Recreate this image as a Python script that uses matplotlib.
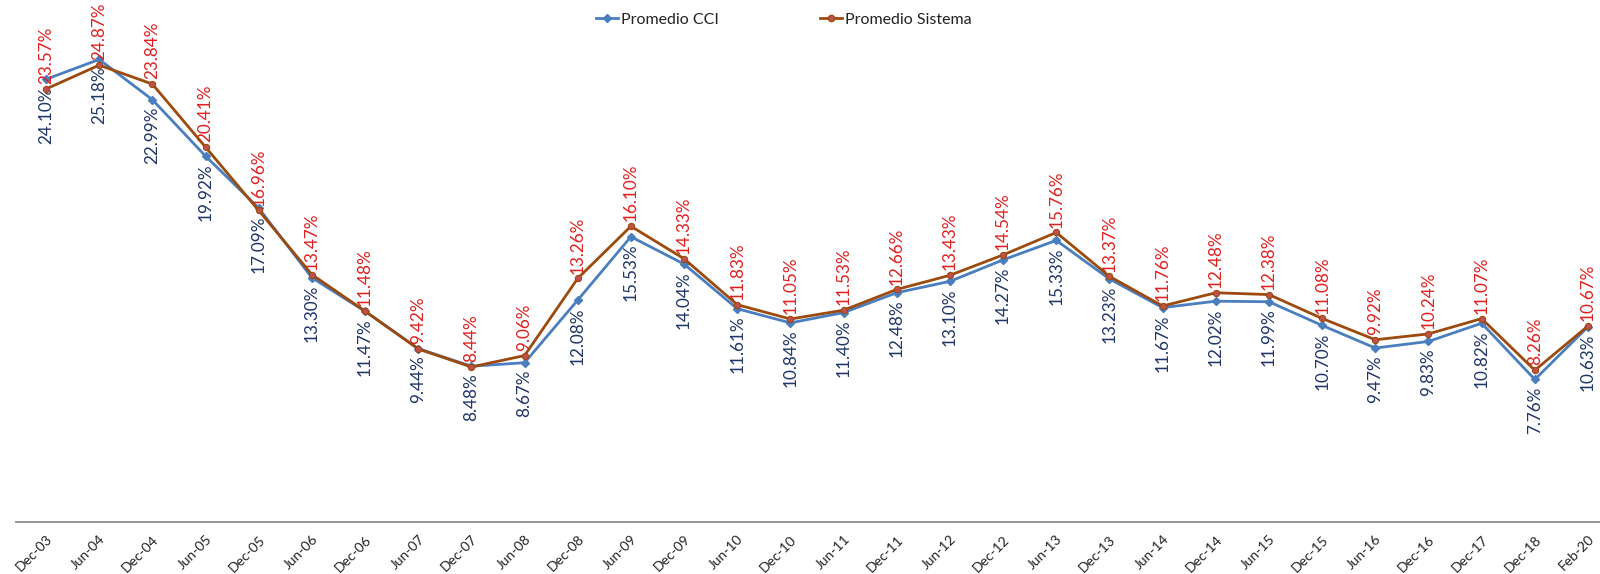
import matplotlib
matplotlib.use("Agg")
import matplotlib.pyplot as plt
from matplotlib.lines import Line2D

categories = ["Dec-03", "Jun-04", "Dec-04", "Jun-05", "Dec-05", "Jun-06", "Dec-06",
              "Jun-07", "Dec-07", "Jun-08", "Dec-08", "Jun-09", "Dec-09", "Jun-10",
              "Dec-10", "Jun-11", "Dec-11", "Jun-12", "Dec-12", "Jun-13", "Dec-13",
              "Jun-14", "Dec-14", "Jun-15", "Dec-15", "Jun-16", "Dec-16", "Dec-17",
              "Dec-18", "Feb-20"]
promedio_cci = [24.10, 25.18, 22.99, 19.92, 17.09, 13.30, 11.47, 9.44, 8.48, 8.67,
                12.08, 15.53, 14.04, 11.61, 10.84, 11.40, 12.48, 13.10, 14.27, 15.33,
                13.23, 11.67, 12.02, 11.99, 10.70, 9.47, 9.83, 10.82, 7.76, 10.63]
promedio_sistema = [23.57, 24.87, 23.84, 20.41, 16.96, 13.47, 11.48, 9.42, 8.44, 9.06,
                    13.26, 16.10, 14.33, 11.83, 11.05, 11.53, 12.66, 13.43, 14.54, 15.76,
                    13.37, 11.76, 12.48, 12.38, 11.08, 9.92, 10.24, 11.07, 8.26, 10.67]

plt.rcParams['font.family'] = ['Lato', 'DejaVu Sans']

W, H = 1600, 574
fig = plt.figure(figsize=(W / 100, H / 100), dpi=100)
ax = fig.add_axes([16 / W, (H - 522) / H, 1 - 16 / W, 522 / H])

x = list(range(len(categories)))
cci_line = "#4A7EBF"
sis_line = "#9C4A0E"
ax.plot(x, promedio_cci, color=cci_line, lw=2.0, marker="D", ms=4,
        mfc=cci_line, mec=cci_line, zorder=3)
ax.plot(x, promedio_sistema, color=sis_line, lw=2.0, marker="o", ms=4.5,
        mfc="#C0504D", mec=sis_line, mew=0.8, zorder=4)

for xi, v in zip(x, promedio_cci):
    ax.annotate(f"{v:.2f}%", (xi, v), xytext=(0, -5), textcoords="offset points",
                rotation=90, ha="center", va="top", fontsize=12.3, color="#1F3468")
for xi, v in zip(x, promedio_sistema):
    ax.annotate(f"{v:.2f}%", (xi, v), xytext=(0, 3.5), textcoords="offset points",
                rotation=90, ha="center", va="bottom", fontsize=12.3, color="#E0201F")

ppu = (1588 - 46) / 29
ax.set_xlim(-30 / ppu, 29 + 12 / ppu)
ax.set_ylim(0, 522 / 18.37)

for s in ["left", "right", "top"]:
    ax.spines[s].set_visible(False)
ax.spines["bottom"].set_color("#8C8C8C")
ax.spines["bottom"].set_linewidth(1.3)
ax.set_yticks([])
ax.set_xticks(x)
ax.set_xticklabels(categories, rotation=45, ha="right", va="top",
                   rotation_mode="anchor", fontsize=10, color="#222222")
ax.tick_params(axis="x", length=0, pad=8)

handles = [
    Line2D([], [], color=cci_line, lw=2.0, marker="D", ms=4, mfc=cci_line, mec=cci_line),
    Line2D([], [], color=sis_line, lw=2.0, marker="o", ms=4.5, mfc="#C0504D", mec=sis_line),
]
fig.legend(handles, ["Promedio CCI", "Promedio Sistema"], loc="center",
           bbox_to_anchor=(784 / W, 1 - 20 / H), ncol=2, frameon=False,
           fontsize=11.5, handlelength=1.4, handletextpad=0.2, columnspacing=6.3,
           labelcolor="#222222")

fig.savefig("out.png", dpi=100)
